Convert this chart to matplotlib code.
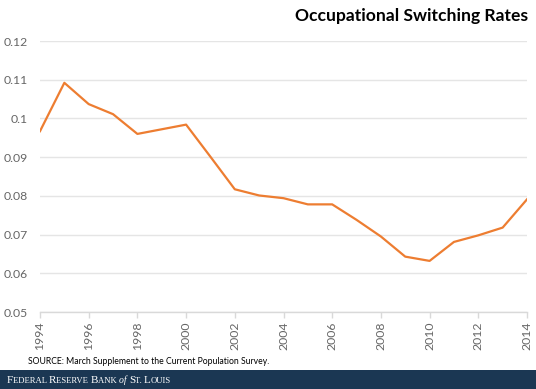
import numpy as np
import matplotlib.pyplot as plt

# dados
anos = list(range(1994, 2015))
taxas = [0.0967, 0.1092, 0.1037, 0.1011, 0.0960, 0.0972, 0.0984, 0.0901,
         0.0817, 0.0801, 0.0794, 0.0778, 0.0778, 0.0738, 0.0695, 0.0643,
         0.0632, 0.0681, 0.0698, 0.0718, 0.0791]
ticks_x = list(range(1994, 2015, 2))
ticks_y = [0.05, 0.06, 0.07, 0.08, 0.09, 0.1, 0.11, 0.12]
rotulos_y = ["0.05", "0.06", "0.07", "0.08", "0.09", "0.1", "0.11", "0.12"]

plt.rcParams['font.family'] = ['Lato', 'DejaVu Sans']

fig = plt.figure(figsize=(5.36, 3.89), dpi=100, facecolor='white')
ax = fig.add_axes([40 / 536, 1 - 312 / 389, 487 / 536, 271 / 389])

ax.plot(anos, taxas, color='#ED7D31', linewidth=1.6, zorder=3)

ax.set_xlim(1994, 2014)
ax.set_ylim(0.05, 0.12)
ax.set_xticks(ticks_x)
ax.set_xticklabels([str(a) for a in ticks_x], rotation=90)
ax.set_yticks(ticks_y)
ax.set_yticklabels(rotulos_y)

ax.grid(axis='y', color='#e5e5e5', linewidth=1)
ax.set_axisbelow(True)
for lado in ['top', 'right', 'left']:
    ax.spines[lado].set_visible(False)
ax.spines['bottom'].set_color('#d9d9d9')
ax.spines['bottom'].set_linewidth(1)

ax.tick_params(axis='x', colors='#d9d9d9', labelcolor='#666666', labelsize=8.8,
               length=4, width=1, pad=3)
ax.tick_params(axis='y', length=0, labelcolor='#666666', labelsize=8.8, pad=9)

# titulo
fig.text(528 / 536, 1 - 16 / 389, "Occupational Switching Rates", ha='right', va='center',
         fontsize=12.6, fontweight='bold', color='black')

# fonte
fig.text(28 / 536, 1 - 362 / 389, "SOURCE: March Supplement to the Current Population Survey.",
         ha='left', va='center', fontsize=6.2, color='black')

# faixa do rodape
fig.patches.append(plt.Rectangle((0, 0), 1, 19 / 389, transform=fig.transFigure,
                                 facecolor='#1b3753', edgecolor='none', zorder=0))

# texto em versaletes montado por pedacos
pedacos = [("F", 8, 'normal'), ("EDERAL ", 6.2, 'normal'), ("R", 8, 'normal'),
           ("ESERVE ", 6.2, 'normal'), ("B", 8, 'normal'), ("ANK ", 6.2, 'normal'),
           ("of ", 7, 'italic'), ("S", 8, 'normal'), ("T. ", 6.2, 'normal'),
           ("L", 8, 'normal'), ("OUIS", 6.2, 'normal')]
renderer = fig.canvas.get_renderer()
x_px = 7
y_base = 1 - 383 / 389
for texto, tam, estilo in pedacos:
    t = fig.text(x_px / 536, y_base, texto, ha='left', va='baseline', fontsize=tam,
                 fontstyle=estilo, color='white', family='Liberation Serif')
    x_px += t.get_window_extent(renderer=renderer).width

fig.savefig("out.png", dpi=100, facecolor=fig.get_facecolor())
plt.close(fig)
